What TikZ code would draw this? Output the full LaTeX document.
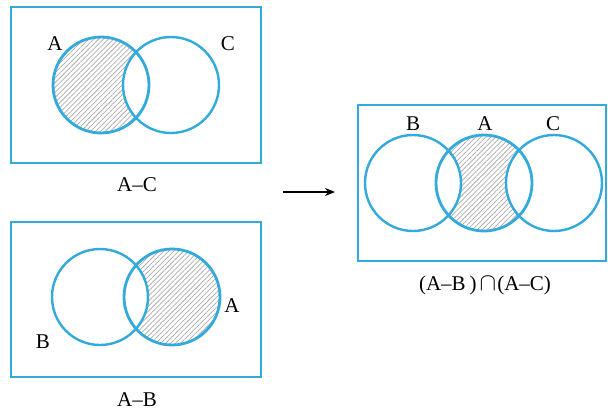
\documentclass[tikz,border=0pt]{standalone}
\usepackage{fontspec}
\setmainfont{Liberation Serif}
\usetikzlibrary{patterns.meta,arrows.meta}
\definecolor{venn}{HTML}{33A9DC}
\begin{document}
\begin{tikzpicture}[x=1pt,y=-1pt,
  frame/.style={draw=venn,line width=2.6pt},
  ring/.style={draw=venn,line width=2.4pt},
  ringA/.style={draw=venn,line width=2.8pt},
  hatch/.style={pattern={Lines[angle=45,distance=3.5pt,line width=0.75pt]},pattern color=gray!65},
  lbl/.style={font=\fontsize{21}{24}\selectfont,inner sep=0pt}]
\useasboundingbox (0,0) rectangle (608,410);
% ---- A - C ----
\coordinate (ac-A) at (101,85);
\coordinate (ac-C) at (171,85);
\draw[frame] (11,7) rectangle (261,163);
\fill[hatch] (ac-A) circle[radius=48pt];
\fill[white] (ac-C) circle[radius=48pt];
\draw[ringA] (ac-A) circle[radius=48pt];
\draw[ring] (ac-C) circle[radius=48pt];
\node[lbl] (lA1) at (55,44) {A};
\node[lbl] (lC1) at (228,44) {C};
\node[lbl] (cap1) at (137,185) {A--C};
% ---- A - B ----
\coordinate (ab-B) at (100,297);
\coordinate (ab-A) at (172,297);
\draw[frame] (11,222) rectangle (261,377);
\fill[hatch] (ab-A) circle[radius=48pt];
\fill[white] (ab-B) circle[radius=48pt];
\draw[ring] (ab-B) circle[radius=48pt];
\draw[ringA] (ab-A) circle[radius=48pt];
\node[lbl] (lA2) at (232,306) {A};
\node[lbl] (lB2) at (43,342) {B};
\node[lbl] (cap2) at (137,400) {A--B};
% ---- arrow ----
\coordinate (arS) at (283,192);
\coordinate (arE) at (335,192);
\draw[line width=1.6pt,-{Stealth[length=10pt,width=8pt]}] (arS) -- (arE);
% ---- (A-B) cap (A-C) ----
\coordinate (r-B) at (413,183);
\coordinate (r-A) at (484,183);
\coordinate (r-C) at (554,183);
\draw[frame] (358,105) rectangle (606,261);
\fill[hatch] (r-A) circle[radius=48pt];
\fill[white] (r-B) circle[radius=48pt];
\fill[white] (r-C) circle[radius=48pt];
\draw[ring] (r-B) circle[radius=48pt];
\draw[ring] (r-C) circle[radius=48pt];
\draw[ringA] (r-A) circle[radius=48pt];
\node[lbl] (lB3) at (413,124) {B};
\node[lbl] (lA3) at (485,124) {A};
\node[lbl] (lC3) at (553,124) {C};
\node[lbl] (cap3) at (485,285) {(A--B\hspace{4pt})\hspace{3pt}{\fontsize{27}{27}\selectfont$\cap$}\hspace{1pt}(A--C)};
\end{tikzpicture}
\end{document}
